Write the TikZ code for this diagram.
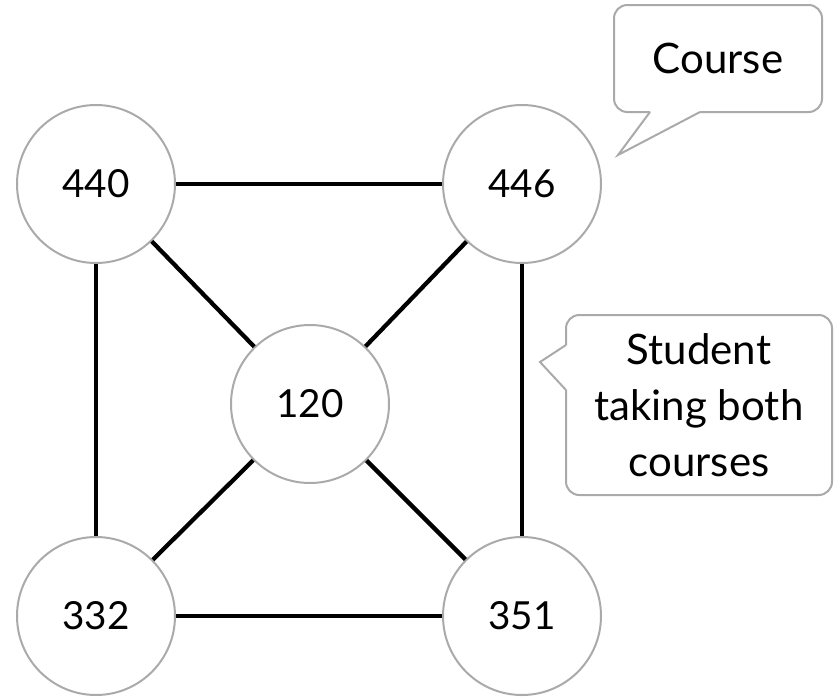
\documentclass[tikz,border=0pt]{standalone}
\usepackage{fontspec}
\setmainfont{Lato}
\definecolor{ringgray}{HTML}{AAAAAA}
\begin{document}
\begin{tikzpicture}[x=0.75pt,y=-0.75pt,
  course/.style={circle,draw=ringgray,line width=1.5pt,fill=white,
    minimum size=118.5pt,inner sep=0pt,font=\fontsize{29}{34}\selectfont},
  link/.style={line width=3.2pt,black},
  bubble/.style={draw=ringgray,line width=1.5pt,fill=white,rounded corners=10pt,
    inner sep=0pt,align=center,font=\fontsize{31.5}{42}\selectfont},
  tailedge/.style={draw=ringgray,line width=1.5pt,line join=miter}]
\useasboundingbox (0,0) rectangle (835,697);

% courses
\node[course] (n440) at (96,184) {440};
\node[course] (n446) at (522,184) {446};
\node[course] (n120) at (310,404) {120};
\node[course] (n332) at (96,616) {332};
\node[course] (n351) at (522,616) {351};

% shared students
\draw[link] (n440) -- (n446);
\draw[link] (n332) -- (n351);
\draw[link] (n440) -- (n332);
\draw[link] (n446) -- (n351);
\draw[link] (n440) -- (n120);
\draw[link] (n446) -- (n120);
\draw[link] (n332) -- (n120);
\draw[link] (n351) -- (n120);

% callout: course
\node[bubble,minimum width=156pt,minimum height=80.25pt] (coursenote) at (718,58.5) {Course};
\coordinate (coursetip) at (618,155);
\fill[white] (651,110) -- (699,110) -- (700,112) -- (coursetip) -- (650,112) -- cycle;
\draw[tailedge] (650,112) -- (coursetip) -- (700,112);

% callout: student
\node[bubble,minimum width=199.5pt,minimum height=135pt] (studentnote) at (699,405)
  {Student\\taking both\\courses};
\coordinate (studenttip) at (540,362);
\fill[white] (568,346) -- (568,389) -- (566,390) -- (studenttip) -- (566,345) -- cycle;
\draw[tailedge] (566,345) -- (studenttip) -- (566,390);
\end{tikzpicture}
\end{document}
